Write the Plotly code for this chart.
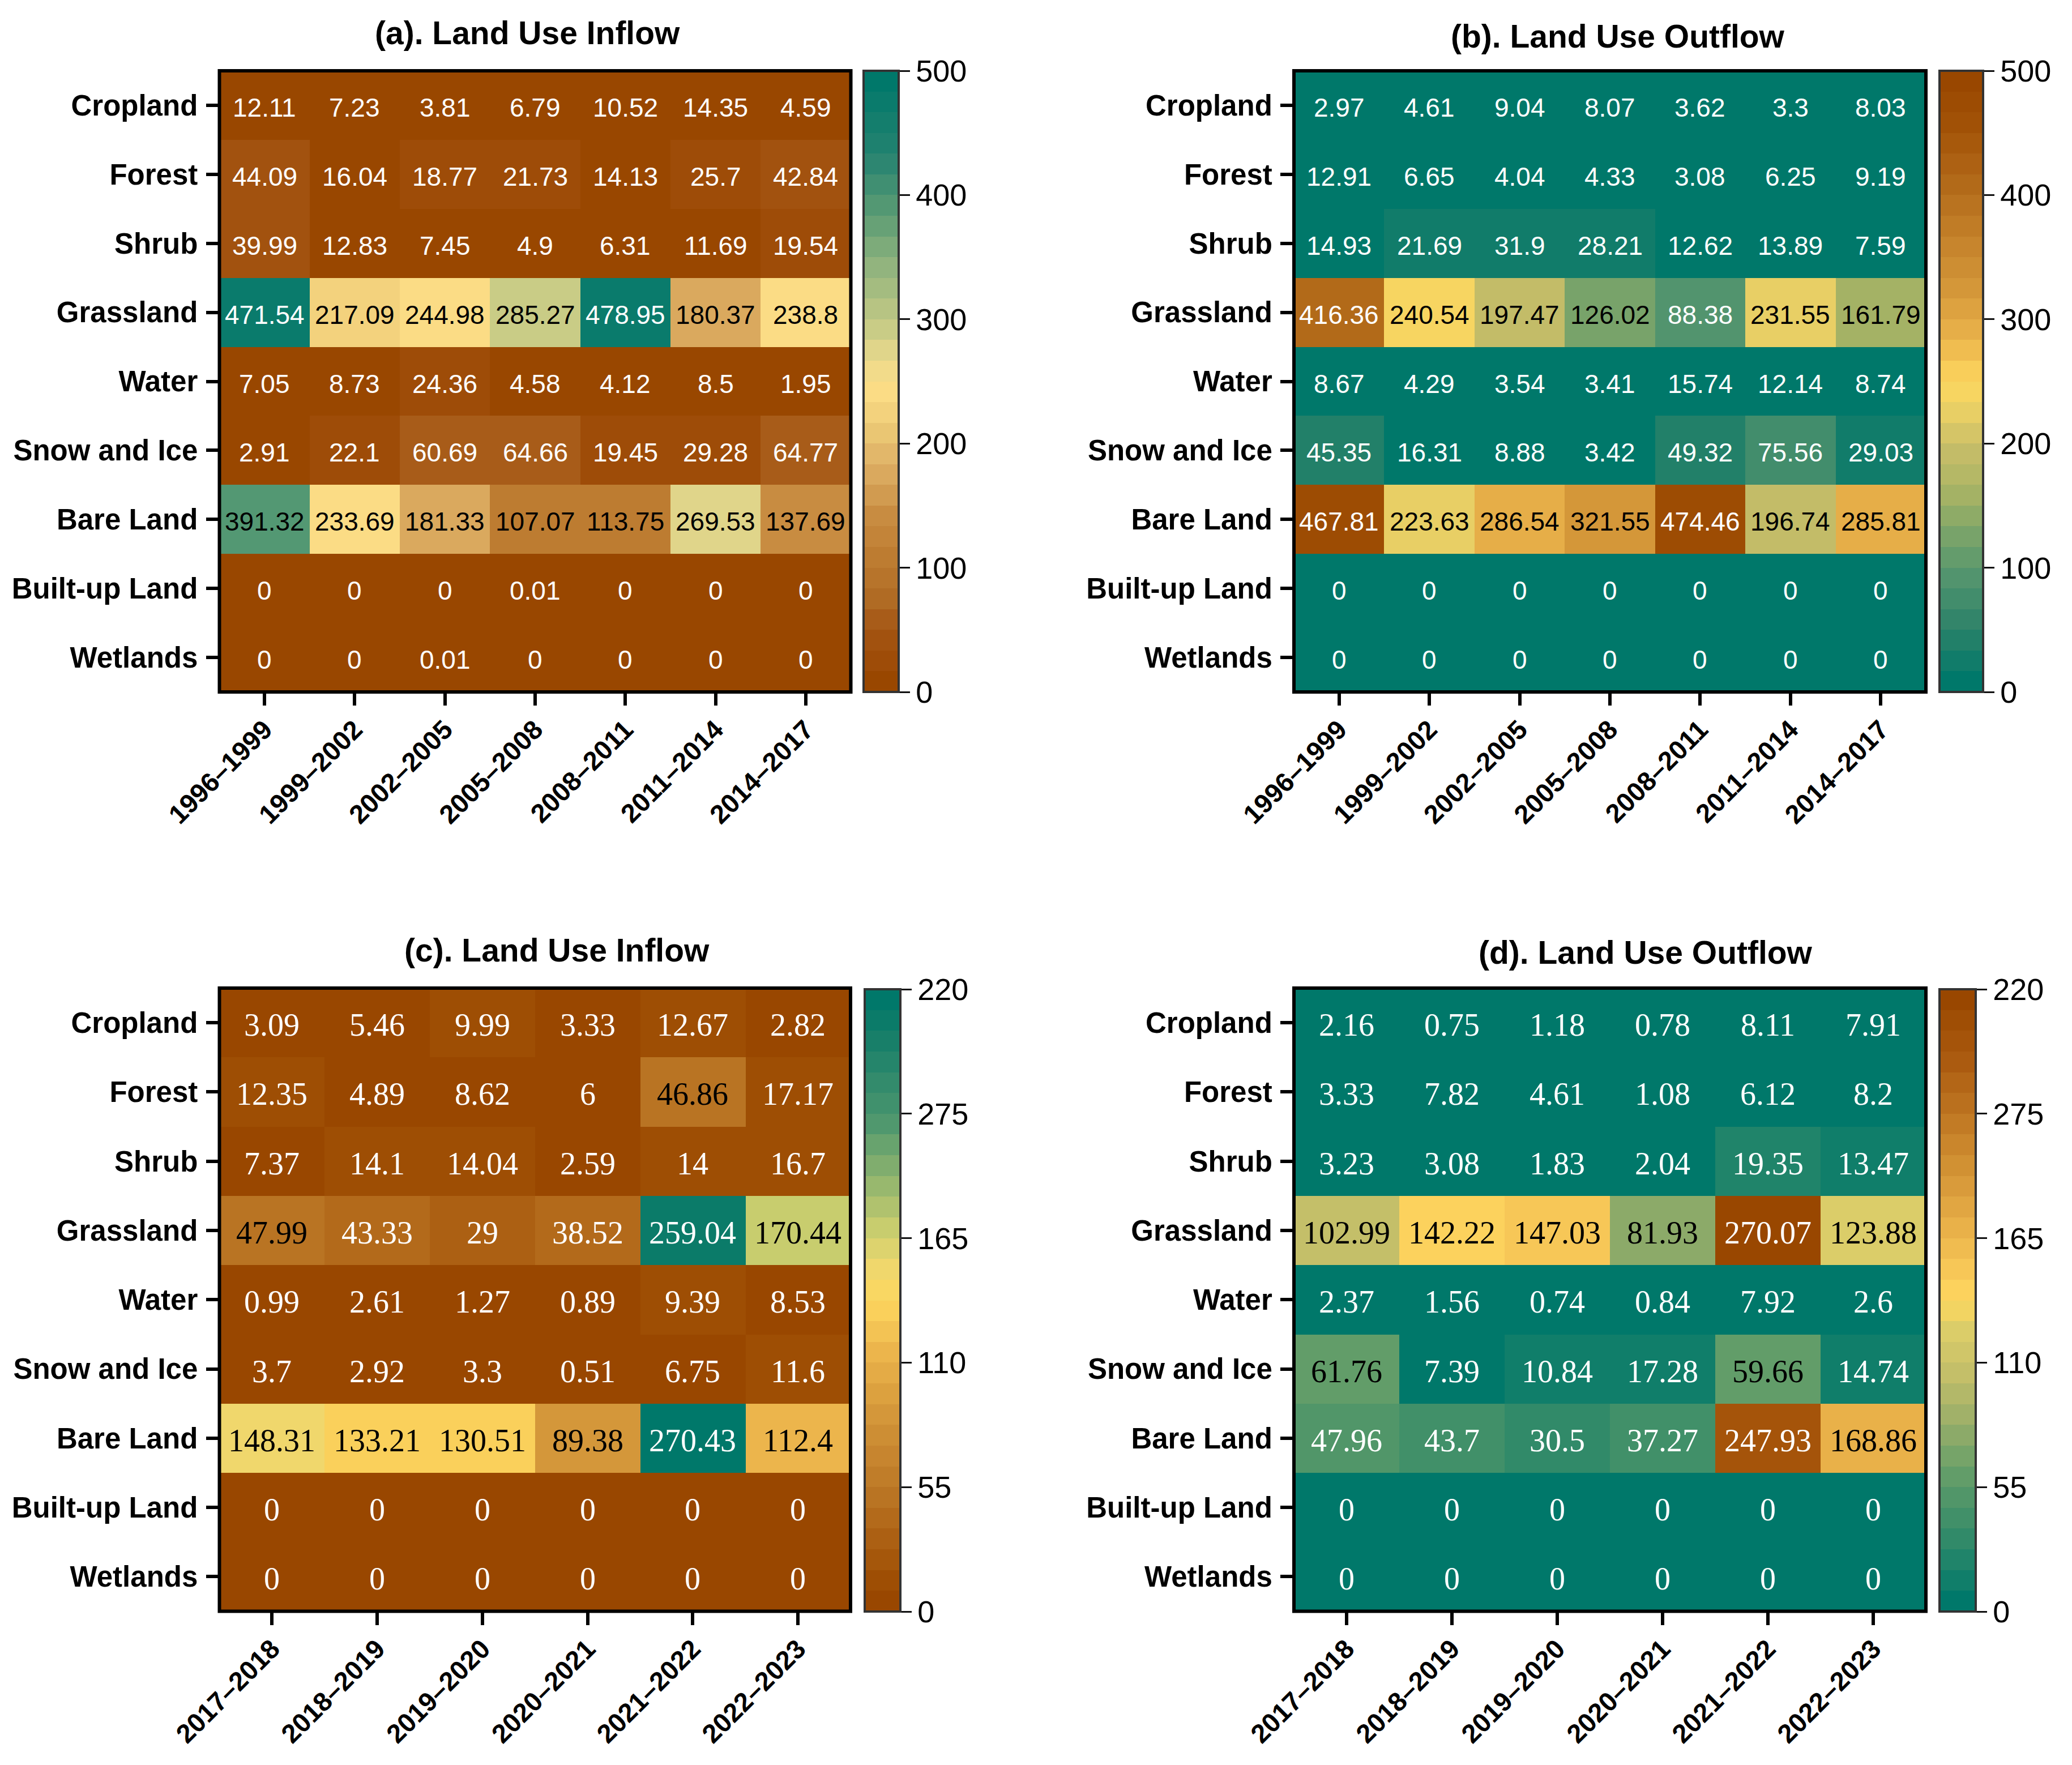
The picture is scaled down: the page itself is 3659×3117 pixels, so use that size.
import plotly.graph_objects as go

W, H = 3659, 3117

# --- data ---
land_types = ['Cropland', 'Forest', 'Shrub', 'Grassland', 'Water', 'Snow and Ice',
              'Bare Land', 'Built-up Land', 'Wetlands']
periods_top = ['1996–1999', '1999–2002', '2002–2005', '2005–2008', '2008–2011', '2011–2014', '2014–2017']
periods_bottom = ['2017–2018', '2018–2019', '2019–2020', '2020–2021', '2021–2022', '2022–2023']

inflow_a = [
    [12.11, 7.23, 3.81, 6.79, 10.52, 14.35, 4.59],
    [44.09, 16.04, 18.77, 21.73, 14.13, 25.7, 42.84],
    [39.99, 12.83, 7.45, 4.9, 6.31, 11.69, 19.54],
    [471.54, 217.09, 244.98, 285.27, 478.95, 180.37, 238.8],
    [7.05, 8.73, 24.36, 4.58, 4.12, 8.5, 1.95],
    [2.91, 22.1, 60.69, 64.66, 19.45, 29.28, 64.77],
    [391.32, 233.69, 181.33, 107.07, 113.75, 269.53, 137.69],
    [0, 0, 0, 0.01, 0, 0, 0],
    [0, 0, 0.01, 0, 0, 0, 0],
]
outflow_b = [
    [2.97, 4.61, 9.04, 8.07, 3.62, 3.3, 8.03],
    [12.91, 6.65, 4.04, 4.33, 3.08, 6.25, 9.19],
    [14.93, 21.69, 31.9, 28.21, 12.62, 13.89, 7.59],
    [416.36, 240.54, 197.47, 126.02, 88.38, 231.55, 161.79],
    [8.67, 4.29, 3.54, 3.41, 15.74, 12.14, 8.74],
    [45.35, 16.31, 8.88, 3.42, 49.32, 75.56, 29.03],
    [467.81, 223.63, 286.54, 321.55, 474.46, 196.74, 285.81],
    [0, 0, 0, 0, 0, 0, 0],
    [0, 0, 0, 0, 0, 0, 0],
]
inflow_c = [
    [3.09, 5.46, 9.99, 3.33, 12.67, 2.82],
    [12.35, 4.89, 8.62, 6, 46.86, 17.17],
    [7.37, 14.1, 14.04, 2.59, 14, 16.7],
    [47.99, 43.33, 29, 38.52, 259.04, 170.44],
    [0.99, 2.61, 1.27, 0.89, 9.39, 8.53],
    [3.7, 2.92, 3.3, 0.51, 6.75, 11.6],
    [148.31, 133.21, 130.51, 89.38, 270.43, 112.4],
    [0, 0, 0, 0, 0, 0],
    [0, 0, 0, 0, 0, 0],
]
outflow_d = [
    [2.16, 0.75, 1.18, 0.78, 8.11, 7.91],
    [3.33, 7.82, 4.61, 1.08, 6.12, 8.2],
    [3.23, 3.08, 1.83, 2.04, 19.35, 13.47],
    [102.99, 142.22, 147.03, 81.93, 270.07, 123.88],
    [2.37, 1.56, 0.74, 0.84, 7.92, 2.6],
    [61.76, 7.39, 10.84, 17.28, 59.66, 14.74],
    [47.96, 43.7, 30.5, 37.27, 247.93, 168.86],
    [0, 0, 0, 0, 0, 0],
    [0, 0, 0, 0, 0, 0],
]

# colour anchors (fraction of the bar, rgb)
colors_a = [(0, '#994700'), (.09, '#A55514'), (.13, '#AF6923'), (.21, '#BE7D32'), (.275, '#C88C41'),
            (.36, '#DEAF64'), (.43, '#EECD78'), (.49, '#FDDE87'), (.54, '#E9D98C'), (.57, '#D2D087'),
            (.7, '#8CB27D'), (.78, '#5A9B73'), (.88, '#238270'), (1, '#00786A')]
colors_b = [(0, '#00786A'), (.09, '#2D8269'), (.18, '#55966E'), (.25, '#7DA569'), (.32, '#AAB464'),
            (.39, '#C8BE69'), (.46, '#EED264'), (.5, '#FDD75F'), (.57, '#EBB44B'), (.64, '#D79B3C'),
            (.83, '#B26919'), (.935, '#A05005'), (1, '#994700')]
colors_c = [(0, '#994700'), (.045, '#A05005'), (.17, '#B97323'), (.325, '#D79B3C'), (.41, '#EBB44B'),
            (.5, '#FDD75F'), (.56, '#EED76E'), (.62, '#C8CD6E'), (.8, '#4B966E'), (.94, '#147D69'),
            (1, '#00786A')]
colors_d = [(0, '#00786A'), (.17, '#509669'), (.22, '#69A069'), (.3, '#9BAF69'), (.375, '#C3BE69'),
            (.45, '#DCCD69'), (.5, '#FDD75F'), (.535, '#FACD5A'), (.61, '#EBB44B'), (.9, '#AA5A0F'),
            (1, '#994700')]


def pick_color(anchors, t):
    # straight mix between the two nearest anchors
    for (t0, c0), (t1, c1) in zip(anchors, anchors[1:]):
        if t <= t1:
            f = (t - t0) / (t1 - t0)
            rgb = [int(c0[k:k + 2], 16) * (1 - f) + int(c1[k:k + 2], 16) * f for k in (1, 3, 5)]
            return 'rgb({:.0f},{:.0f},{:.0f})'.format(*rgb)
    return anchors[-1][1]


def stepped(anchors, n=30):
    # the colour bars are drawn in bands, not as a smooth ramp
    scale = []
    for i in range(n):
        c = pick_color(anchors, i / (n - 1))
        scale.append([i / n, c])
        scale.append([(i + 1) / n, c])
    return scale


panels = [
    dict(name='(a). Land Use Inflow', z=inflow_a, x=periods_top, colors=colors_a, zmax=500,
         box=(387.5, 125, 1502.5, 1222), bar=(1525, 62, 125, 1222), title=(931, 58), dark=(100, 400),
         font='Liberation Sans', size=46,
         ticks=[0, 100, 200, 300, 400, 500], ticktext=['0', '100', '200', '300', '400', '500']),
    dict(name='(b). Land Use Outflow', z=outflow_b, x=periods_top, colors=colors_b, zmax=500,
         box=(2285, 125, 3401, 1222), bar=(3425, 77, 125, 1222), title=(2857, 64), dark=(100, 400),
         font='Liberation Sans', size=46,
         ticks=[0, 100, 200, 300, 400, 500], ticktext=['0', '100', '200', '300', '400', '500']),
    dict(name='(c). Land Use Inflow', z=inflow_c, x=periods_bottom, colors=colors_c, zmax=275,
         box=(387.5, 1745, 1502, 2845.5), bar=(1527, 63, 1747, 2846), title=(983, 1678), dark=(45, 200),
         font='Liberation Serif', size=56,
         ticks=[0, 55, 110, 165, 220, 275], ticktext=['0', '55', '110', '165', '275', '220']),
    dict(name='(d). Land Use Outflow', z=outflow_d, x=periods_bottom, colors=colors_d, zmax=275,
         box=(2285, 1745, 3401, 2845.5), bar=(3425, 64, 1747, 2846), title=(2906, 1682), dark=(50, 200),
         font='Liberation Serif', size=56,
         ticks=[0, 55, 110, 165, 220, 275], ticktext=['0', '55', '110', '165', '275', '220']),
]

fig = go.Figure()
layout = {}

for i, p in enumerate(panels):
    suffix = '' if i == 0 else str(i + 1)
    x0, y0, x1, y1 = p['box']
    bar_x, bar_w, bar_top, bar_bottom = p['bar']
    fig.add_trace(go.Heatmap(
        z=p['z'], x=p['x'], y=land_types, zmin=0, zmax=p['zmax'],
        colorscale=stepped(p['colors']), xaxis='x' + suffix, yaxis='y' + suffix, hoverinfo='skip',
        colorbar=dict(
            x=bar_x / W, xanchor='left', xpad=0, ypad=0,
            y=1 - bar_bottom / H, yanchor='bottom', len=(bar_bottom - bar_top) / H, lenmode='fraction',
            thickness=bar_w, thicknessmode='pixels',
            outlinecolor='#333333', outlinewidth=4,
            tickmode='array', tickvals=p['ticks'], ticktext=p['ticktext'],
            ticks='outside', ticklen=18, tickwidth=3, tickcolor='#111111',
            tickfont=dict(family='Liberation Sans', size=54, color='black'),
        ),
    ))

    # cell labels: black on the light mid colours, white elsewhere
    for row, land in zip(p['z'], land_types):
        for v, period in zip(row, p['x']):
            fig.add_annotation(
                text=f'{v:g}', x=period, y=land, xref='x' + suffix, yref='y' + suffix,
                showarrow=False, yshift=-4,
                font=dict(family=p['font'], size=p['size'],
                          color='black' if p['dark'][0] <= v <= p['dark'][1] else 'white'),
            )

    layout['xaxis' + suffix] = dict(
        domain=[x0 / W, x1 / W], anchor='y' + suffix, type='category', tickangle=-45,
        showline=False, showgrid=False, zeroline=False, ticklabelstandoff=-4,
        ticks='outside', ticklen=23, tickwidth=6, tickcolor='black',
        tickfont=dict(family='Liberation Sans', size=47, color='black', weight='bold'),
    )
    layout['yaxis' + suffix] = dict(
        domain=[1 - y1 / H, 1 - y0 / H], anchor='x' + suffix, type='category', autorange='reversed',
        showline=False, showgrid=False, zeroline=False, ticklabelstandoff=4,
        ticks='outside', ticklen=23, tickwidth=6, tickcolor='black',
        tickfont=dict(family='Liberation Sans', size=51, color='black', weight='bold'),
    )
    # frame sits centred on the heatmap edge, over the outer cells
    fig.add_shape(type='rect', xref='paper', yref='paper', x0=x0 / W, x1=x1 / W,
                  y0=1 - y1 / H, y1=1 - y0 / H, line=dict(color='black', width=6), layer='above')
    fig.add_annotation(
        text=p['name'], xref='paper', yref='paper', x=p['title'][0] / W, y=1 - p['title'][1] / H,
        xanchor='center', yanchor='middle', showarrow=False,
        font=dict(family='Liberation Sans', size=57, color='black', weight='bold'),
    )

fig.update_layout(
    width=W, height=H, margin=dict(l=0, r=0, t=0, b=0, autoexpand=False),
    paper_bgcolor='white', plot_bgcolor='white', showlegend=False, **layout,
)

fig.write_html("out.html", config={'displayModeBar': False},
               post_script="document.body.style.margin = '0';")
